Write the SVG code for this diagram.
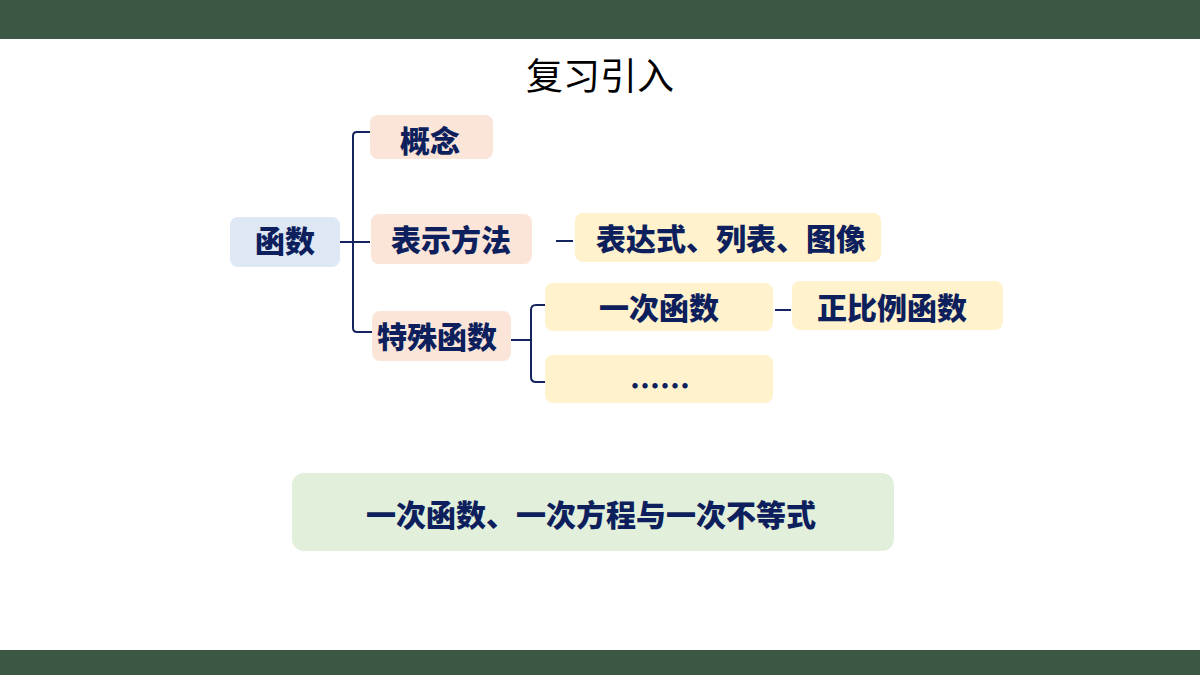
<svg xmlns="http://www.w3.org/2000/svg" width="1200" height="675" viewBox="0 0 1200 675">
<style>
.t{font-family:"Noto Sans CJK SC","Noto Sans",sans-serif;font-weight:900;font-size:30px;fill:#0d1f5c;text-anchor:middle}
.c{fill:none;stroke:#14245e;stroke-width:2}
.blue{fill:#dde8f4}.pink{fill:#fbe5d8}.yel{fill:#fff2cc}.grn{fill:#e2efda}
</style>
<rect x="0" y="0" width="1200" height="39" fill="#3d5745"/>
<rect x="0" y="650" width="1200" height="25" fill="#3d5745"/>
<text x="600" y="90" font-family="'Noto Sans CJK SC',sans-serif" font-size="37" fill="#000" text-anchor="middle">复习引入</text>
<g id="connectors">
<path class="c" d="M370,132 H357 Q353,132 353,136 V328 Q353,332 357,332 H372"/>
<path class="c" d="M340,242 H370"/>
<path class="c" d="M511,340 H531"/>
<path class="c" d="M545,305 H536 Q531,305 531,310 V377 Q531,382 536,382 H545"/>
<path class="c" d="M556,241 H573"/>
<path class="c" d="M775,310 H791"/>
</g>
<g id="n-hanshu"><rect class="blue" x="230" y="217" width="110" height="50" rx="8"/><text class="t" x="285" y="252">函数</text></g>
<g id="n-gainian"><rect class="pink" x="370" y="115" width="123" height="44" rx="8"/><text class="t" x="430" y="152">概念</text></g>
<g id="n-biaoshi"><rect class="pink" x="371" y="214" width="161" height="50" rx="8"/><text class="t" x="451" y="251">表示方法</text></g>
<g id="n-teshu"><rect class="pink" x="372" y="311" width="139" height="50" rx="8"/><text class="t" x="437" y="348">特殊函数</text></g>
<g id="n-biaoda"><rect class="yel" x="575" y="213" width="306" height="49" rx="8"/><text class="t" x="731" y="250">表达式、列表、图像</text></g>
<g id="n-yici"><rect class="yel" x="545" y="283" width="228" height="48" rx="8"/><text class="t" x="659" y="319">一次函数</text></g>
<g id="n-zhengbi"><rect class="yel" x="792" y="281" width="211" height="49" rx="8"/><text class="t" x="892" y="319">正比例函数</text></g>
<g id="n-more"><rect class="yel" x="545" y="355" width="228" height="48" rx="8"/><text class="t" x="660" y="397">……</text></g>
<g id="n-bottom"><rect class="grn" x="292" y="473" width="602" height="78" rx="12"/><text class="t" x="591" y="526">一次函数、一次方程与一次不等式</text></g>
</svg>
